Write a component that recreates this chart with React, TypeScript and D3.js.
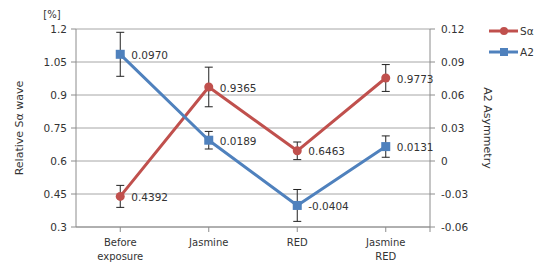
import React, { useEffect, useRef } from 'react';
import * as d3 from 'd3';

const categories = ['Before exposure', 'Jasmine', 'RED', 'Jasmine RED'];
const categoryLines = [['Before', 'exposure'], ['Jasmine'], ['RED'], ['Jasmine', 'RED']];
const saValues = [0.4392, 0.9365, 0.6463, 0.9773];
const saErrors = [0.05, 0.09, 0.04, 0.061];
const a2Values = [0.097, 0.0189, -0.0404, 0.0131];
const a2Errors = [0.02, 0.008, 0.0145, 0.0097];
const leftTicks = [0.3, 0.45, 0.6, 0.75, 0.9, 1.05, 1.2];
const rightTicks = [-0.06, -0.03, 0, 0.03, 0.06, 0.09, 0.12];

const RED = '#c0504d';
const BLUE = '#4f81bd';
const FONT = 'DejaVu Sans, Verdana, sans-serif';

const App = () => {
  const ref = useRef<SVGSVGElement>(null);

  useEffect(() => {
    const width = 547;
    const height = 263;
    const left = 76, right = 430, top = 29, bottom = 227;

    const svg = d3.select(ref.current);
    svg.selectAll('*').remove();
    svg.attr('width', width).attr('height', height).style('font-family', FONT);

    const x = d3.scaleBand().domain(categories).range([left, right]);
    const yL = d3.scaleLinear().domain([0.3, 1.2]).range([bottom, top]);
    const yR = d3.scaleLinear().domain([-0.06, 0.12]).range([bottom, top]);
    const cx = (c: string) => (x(c) as number) + x.bandwidth() / 2;

    // gridlines
    svg.append('g').selectAll('line').data(leftTicks).enter().append('line')
      .attr('x1', left).attr('x2', right)
      .attr('y1', d => yL(d)).attr('y2', d => yL(d))
      .attr('stroke', '#a6a6a6').attr('stroke-width', 1);

    // axes lines
    svg.append('line').attr('x1', left).attr('x2', left).attr('y1', top).attr('y2', bottom)
      .attr('stroke', '#8c8c8c');
    svg.append('line').attr('x1', right).attr('x2', right).attr('y1', top).attr('y2', bottom)
      .attr('stroke', '#8c8c8c');
    svg.append('line').attr('x1', left).attr('x2', right).attr('y1', bottom).attr('y2', bottom)
      .attr('stroke', '#8c8c8c');

    // left ticks
    const lt = svg.append('g').selectAll('g').data(leftTicks).enter().append('g');
    lt.append('line').attr('x1', left - 5).attr('x2', left).attr('y1', d => yL(d)).attr('y2', d => yL(d))
      .attr('stroke', '#8c8c8c');
    lt.append('text').attr('x', left - 9).attr('y', d => yL(d)).attr('dy', '0.35em')
      .attr('text-anchor', 'end').attr('font-size', 10.5).attr('fill', '#333')
      .text(d => String(d));

    // right ticks
    const rt = svg.append('g').selectAll('g').data(rightTicks).enter().append('g');
    rt.append('line').attr('x1', right).attr('x2', right + 5).attr('y1', d => yR(d)).attr('y2', d => yR(d))
      .attr('stroke', '#8c8c8c');
    rt.append('text').attr('x', right + 11).attr('y', d => yR(d)).attr('dy', '0.35em')
      .attr('text-anchor', 'start').attr('font-size', 10.5).attr('fill', '#333')
      .text(d => String(d));

    // x ticks at category centres and ends
    const xt = [...categories.map(cx), right];
    svg.append('g').selectAll('line').data(xt).enter().append('line')
      .attr('x1', d => d).attr('x2', d => d).attr('y1', bottom).attr('y2', bottom + 5)
      .attr('stroke', '#8c8c8c');

    // x labels
    const xl = svg.append('g').selectAll('text').data(categories).enter().append('text')
      .attr('x', d => cx(d)).attr('y', 246).attr('text-anchor', 'middle')
      .attr('font-size', 10).attr('fill', '#333');
    xl.each(function (d, i) {
      const t = d3.select(this);
      categoryLines[i].forEach((s, j) => {
        t.append('tspan').attr('x', cx(d)).attr('dy', j === 0 ? 0 : 14).text(s);
      });
    });

    // axis titles
    svg.append('text').attr('transform', `translate(23,128) rotate(-90)`)
      .attr('text-anchor', 'middle').attr('font-size', 11).attr('fill', '#333')
      .text('Relative Sα wave');
    svg.append('text').attr('transform', `translate(484,128) rotate(90)`)
      .attr('text-anchor', 'middle').attr('font-size', 11).attr('fill', '#333')
      .text('A2 Asymmetry');
    svg.append('text').attr('x', 52).attr('y', 18).attr('text-anchor', 'middle')
      .attr('font-size', 10).attr('fill', '#333').text('[%]');

    const series = [
      { name: 'Sα', values: saValues, errors: saErrors, y: yL, color: RED, fmt: (v: number) => v.toFixed(4), marker: 'circle' },
      { name: 'A2', values: a2Values, errors: a2Errors, y: yR, color: BLUE, fmt: (v: number) => v.toFixed(4), marker: 'square' },
    ];

    series.forEach(s => {
      const pts = s.values.map((v, i) => ({ c: categories[i], v, e: s.errors[i] }));
      const line = d3.line<{ c: string; v: number }>().x(d => cx(d.c)).y(d => s.y(d.v));
      svg.append('path').datum(pts).attr('d', line).attr('fill', 'none')
        .attr('stroke', s.color).attr('stroke-width', 3).attr('stroke-linejoin', 'round');

      // error bars
      const eb = svg.append('g').selectAll('g').data(pts).enter().append('g')
        .attr('stroke', '#222').attr('stroke-width', 1);
      eb.append('line').attr('x1', d => cx(d.c)).attr('x2', d => cx(d.c))
        .attr('y1', d => s.y(d.v + d.e)).attr('y2', d => s.y(d.v - d.e));
      eb.append('line').attr('x1', d => cx(d.c) - 4).attr('x2', d => cx(d.c) + 4)
        .attr('y1', d => s.y(d.v + d.e)).attr('y2', d => s.y(d.v + d.e));
      eb.append('line').attr('x1', d => cx(d.c) - 4).attr('x2', d => cx(d.c) + 4)
        .attr('y1', d => s.y(d.v - d.e)).attr('y2', d => s.y(d.v - d.e));

      // markers
      if (s.marker === 'circle') {
        svg.append('g').selectAll('circle').data(pts).enter().append('circle')
          .attr('cx', d => cx(d.c)).attr('cy', d => s.y(d.v)).attr('r', 4.5).attr('fill', s.color);
      } else {
        svg.append('g').selectAll('rect').data(pts).enter().append('rect')
          .attr('x', d => cx(d.c) - 4.5).attr('y', d => s.y(d.v) - 4.5)
          .attr('width', 9).attr('height', 9).attr('fill', s.color);
      }

      // value labels
      svg.append('g').selectAll('text').data(pts).enter().append('text')
        .attr('x', d => cx(d.c) + 11).attr('y', d => s.y(d.v) + 1).attr('dy', '0.35em')
        .attr('font-size', 10.5).attr('fill', '#333')
        .text(d => s.fmt(d.v));
    });

    // legend
    series.forEach((s, i) => {
      const ly = 31 + i * 21;
      svg.append('line').attr('x1', 489).attr('x2', 518).attr('y1', ly).attr('y2', ly)
        .attr('stroke', s.color).attr('stroke-width', 3);
      if (s.marker === 'circle') {
        svg.append('circle').attr('cx', 504).attr('cy', ly).attr('r', 4).attr('fill', s.color);
      } else {
        svg.append('rect').attr('x', 500).attr('y', ly - 4).attr('width', 8).attr('height', 8).attr('fill', s.color);
      }
      svg.append('text').attr('x', 520).attr('y', ly).attr('dy', '0.35em')
        .attr('font-size', 10.5).attr('fill', '#333').text(s.name);
    });
  }, []);

  return (
    <div style={{ position: 'absolute', left: 0, top: 0 }}>
      <svg ref={ref}></svg>
    </div>
  );
};

export default App;
